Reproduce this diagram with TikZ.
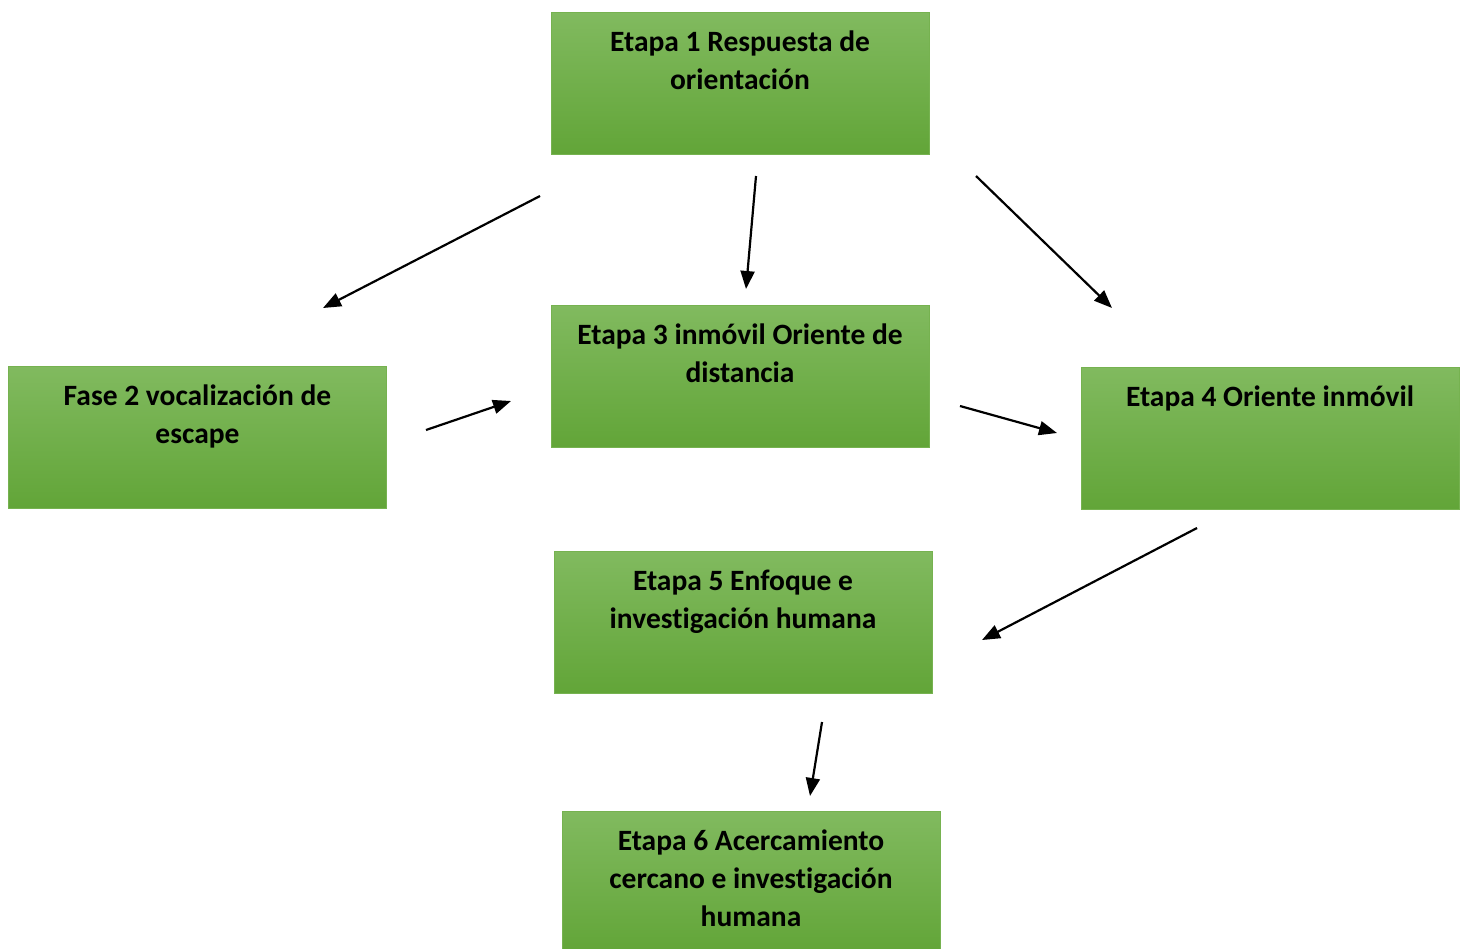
\documentclass[tikz,border=0pt]{standalone}
\usepackage{fontspec}
\setmainfont[Ligatures=NoCommon]{Carlito}
\usetikzlibrary{arrows.meta,calc}
\definecolor{gtop}{RGB}{129,186,95}
\definecolor{gbot}{RGB}{98,165,56}
\definecolor{gedge}{RGB}{118,178,80}
\newcommand{\boxtext}[1]{\parbox[c][142pt][t]{378pt}{\centering\fontsize{29.5}{38}\selectfont\bfseries\vspace*{13pt}\strut #1\par}}
\tikzset{
  stage/.style={rectangle, inner sep=0pt, top color=gtop, bottom color=gbot, draw=gedge, line width=0.8pt},
  flow/.style={line width=2.2pt, -{Triangle[length=18pt,width=14pt]}}
}
\begin{document}
\begin{tikzpicture}[x=1pt,y=-1pt]
\useasboundingbox (0,0) rectangle (1463,948);
\node[stage] (b1) at (740,83) {\boxtext{Etapa 1 Respuesta de\\orientación}};
\node[stage] (b2) at (197.5,437) {\boxtext{Fase 2 vocalización de\\escape}};
\node[stage] (b3) at (740,376) {\boxtext{Etapa 3 inmóvil Oriente de\\distancia}};
\node[stage] (b4) at (1270,438) {\boxtext{Etapa 4 Oriente inmóvil}};
\node[stage] (b5) at (743,622) {\boxtext{Etapa 5 Enfoque e\\investigación humana}};
\node[stage] (b6) at (751,882) {\boxtext{Etapa 6 Acercamiento\\cercano e investigación\\humana}};
% arrow endpoints
\coordinate (a1s) at (540,196); \coordinate (a1e) at (323,308);
\coordinate (a2s) at (756,176); \coordinate (a2e) at (746,289);
\coordinate (a3s) at (976,176); \coordinate (a3e) at (1112,308);
\coordinate (a4s) at (426,430); \coordinate (a4e) at (511,401);
\coordinate (a5s) at (960,406); \coordinate (a5e) at (1057,433);
\coordinate (a6s) at (1197,528); \coordinate (a6e) at (982,640);
\coordinate (a7s) at (822,722); \coordinate (a7e) at (810,796);
\draw[flow] (a1s) -- (a1e);
\draw[flow] (a2s) -- (a2e);
\draw[flow] (a3s) -- (a3e);
\draw[flow] (a4s) -- (a4e);
\draw[flow] (a5s) -- (a5e);
\draw[flow] (a6s) -- (a6e);
\draw[flow] (a7s) -- (a7e);
\end{tikzpicture}
\end{document}
